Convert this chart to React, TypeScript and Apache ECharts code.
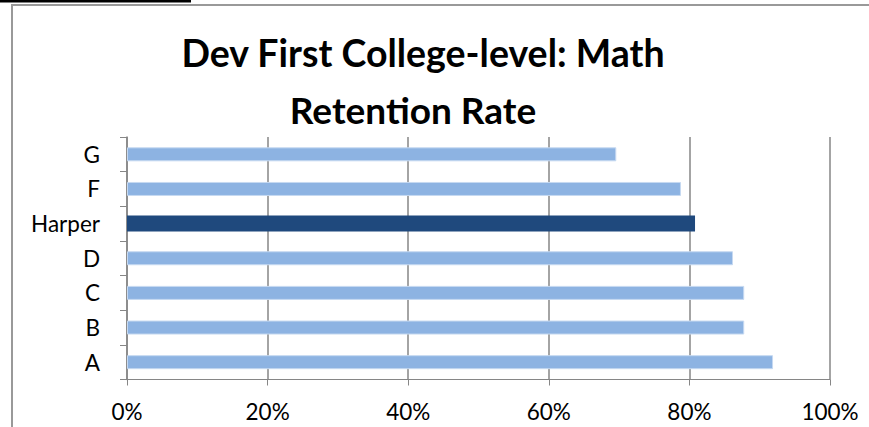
import React, { useEffect, useRef } from "react";
import * as echarts from "echarts";

const categories = ["A", "B", "C", "D", "Harper", "F", "G"];
const retentionPct = [91.9, 87.8, 87.8, 86.2, 80.8, 78.8, 69.6];
const highlightCategory = "Harper";
const xTicks = [0, 20, 40, 60, 80, 100];
const titleLines = ["Dev First College-level: Math", "Retention Rate"];

const LIGHT = "#8db3e2";
const DARK = "#1f497d";
const AXIS = "#868686";

export default function App() {
  const ref = useRef<HTMLDivElement>(null);
  useEffect(() => {
    if (!ref.current) return;
    const chart = echarts.init(ref.current, null, { renderer: "svg" });
    const lightData = categories.map((c, i) => (c === highlightCategory ? "-" : retentionPct[i]));
    const darkData = categories.map((c, i) => (c === highlightCategory ? retentionPct[i] : "-"));
    const axisFont = { fontFamily: "Lato", fontSize: 22.5, color: "#000" };
    chart.setOption({
      animation: false,
      backgroundColor: "#fff",
      grid: { left: 127, right: 39, top: 137, bottom: 47.5, containLabel: false },
      xAxis: {
        type: "value",
        min: xTicks[0],
        max: xTicks[xTicks.length - 1],
        interval: 20,
        axisLine: { show: true, lineStyle: { color: AXIS, width: 1 } },
        axisTick: { show: true, length: 6, lineStyle: { color: AXIS } },
        splitLine: { show: true, lineStyle: { color: AXIS, width: 1.5 } },
        axisLabel: { ...axisFont, margin: 20, formatter: "{value}%" },
      },
      yAxis: [
        {
          type: "category",
          data: categories,
          axisLine: { show: true, lineStyle: { color: AXIS, width: 1.5 } },
          axisTick: { show: true, length: 7, lineStyle: { color: AXIS } },
          splitLine: { show: false },
          axisLabel: { ...axisFont, margin: 27 },
        },
        {
          type: "category",
          data: categories,
          show: false,
          position: "left",
        },
      ],
      series: [
        {
          type: "bar",
          yAxisIndex: 0,
          data: lightData,
          barWidth: 14,
          itemStyle: { color: LIGHT, borderColor: "#c6d9f1", borderWidth: 1 },
        },
        {
          type: "bar",
          yAxisIndex: 1,
          data: darkData,
          barWidth: 16,
          itemStyle: { color: DARK },
        },
      ],
      graphic: [
        { type: "rect", shape: { x: 0, y: 0, width: 191, height: 2.5 }, style: { fill: "#000" } },
        { type: "line", shape: { x1: 11, y1: 5, x2: 869, y2: 5 }, style: { stroke: "#999", lineWidth: 2 } },
        { type: "line", shape: { x1: 12, y1: 4, x2: 12, y2: 427 }, style: { stroke: "#999", lineWidth: 2 } },
        {
          type: "text",
          x: 423,
          y: 71,
          style: {
            text: titleLines[0],
            fontFamily: "Lato",
            fontWeight: "bold",
            fontSize: 37.5,
            fill: "#000",
            textAlign: "center",
            textVerticalAlign: "bottom",
          },
        },
        {
          type: "text",
          x: 413,
          y: 128,
          style: {
            text: titleLines[1],
            fontFamily: "Lato",
            fontWeight: "bold",
            fontSize: 37,
            fill: "#000",
            textAlign: "center",
            textVerticalAlign: "bottom",
          },
        },
      ],
    });
    return () => chart.dispose();
  }, []);
  return (
    <div
      ref={ref}
      style={{ position: "absolute", left: 0, top: 0, width: 869, height: 427 }}
    />
  );
}
